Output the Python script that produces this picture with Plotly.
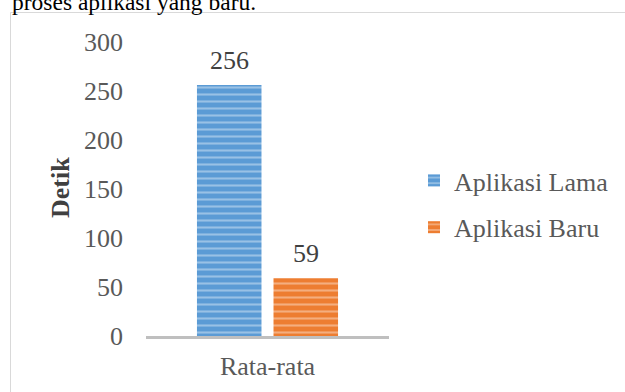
import plotly.graph_objects as go

categories = ["Rata-rata"]
series_names = ["Aplikasi Lama", "Aplikasi Baru"]
lama_values = [256]
baru_values = [59]
colors = ["#5b9bd5", "#ed7d31"]
y_ticks = [0, 50, 100, 150, 200, 250, 300]

W, H = 625, 392
L, R, T, B = 146, 236, 42, 56
pw, ph = W - L - R, H - T - B
BARGAP = 0.37
BARGROUPGAP = 0.157

def px_x(p):
    return (p - L) / pw

def px_y(p):
    return 1 - (p - T) / ph

font_family = "Liberation Serif, Times New Roman, serif"
FS = 26

fig = go.Figure()
slot = pw * (1 - BARGAP) / 2
annotations = []
for i, (name, vals, col) in enumerate(zip(series_names, [lama_values, baru_values], colors)):
    fig.add_trace(go.Bar(
        x=categories, y=vals, name=name, legendgroup=name,
        marker=dict(color=col, line=dict(width=0),
                    pattern=dict(shape="-", fgcolor="rgba(255,255,255,0.75)",
                                 bgcolor=col, size=7, solidity=0.3, fillmode="overlay")),
    ))
    for c, v in zip(categories, vals):
        annotations.append(dict(
            text=str(v), x=c, y=v, xref="x", yref="y", showarrow=False,
            xanchor="center", yanchor="middle",
            xshift=(i - 0.5) * slot, yshift=25,
            font=dict(family=font_family, size=FS, color="#404040")))

annotations += [
    dict(text="<b>Detik</b>", xref="paper", yref="paper", x=px_x(60), y=px_y(188),
         textangle=-90, showarrow=False, xanchor="center", yanchor="middle",
         font=dict(family=font_family, size=FS, color="#404040")),
    dict(text="proses aplikasi yang baru.", xref="paper", yref="paper",
         x=px_x(10), y=px_y(2), xanchor="left", yanchor="middle", showarrow=False,
         font=dict(family=font_family, size=23.5, color="#000000")),
]

fig.update_layout(
    width=W, height=H,
    margin=dict(l=L, r=R, t=T, b=B, autoexpand=False),
    paper_bgcolor="white", plot_bgcolor="white",
    barmode="group", bargap=BARGAP, bargroupgap=BARGROUPGAP,
    font=dict(family=font_family, size=FS, color="#595959"),
    showlegend=True,
    legend=dict(x=px_x(414), y=px_y(157), xanchor="left", yanchor="top",
                font=dict(family=font_family, size=FS, color="#595959"),
                traceorder="grouped", tracegroupgap=10,
                itemwidth=30, bgcolor="rgba(0,0,0,0)"),
    xaxis=dict(showline=True, linecolor="#bfbfbf", linewidth=3, automargin=False,
               showgrid=False, ticks="", ticklabelstandoff=5,
               tickfont=dict(family=font_family, size=FS, color="#595959")),
    yaxis=dict(range=[0, 300], tickvals=y_ticks, showgrid=False, zeroline=False,
               showline=False, ticks="", ticklabelstandoff=22, automargin=False,
               tickfont=dict(family=font_family, size=FS, color="#595959")),
    shapes=[dict(type="rect", xref="paper", yref="paper",
                 x0=px_x(10.5), x1=px_x(700), y0=px_y(12.5), y1=px_y(500),
                 line=dict(color="#d9d9d9", width=1), fillcolor="rgba(0,0,0,0)",
                 layer="below")],
    annotations=annotations,
)

fig.write_html("out.html")
